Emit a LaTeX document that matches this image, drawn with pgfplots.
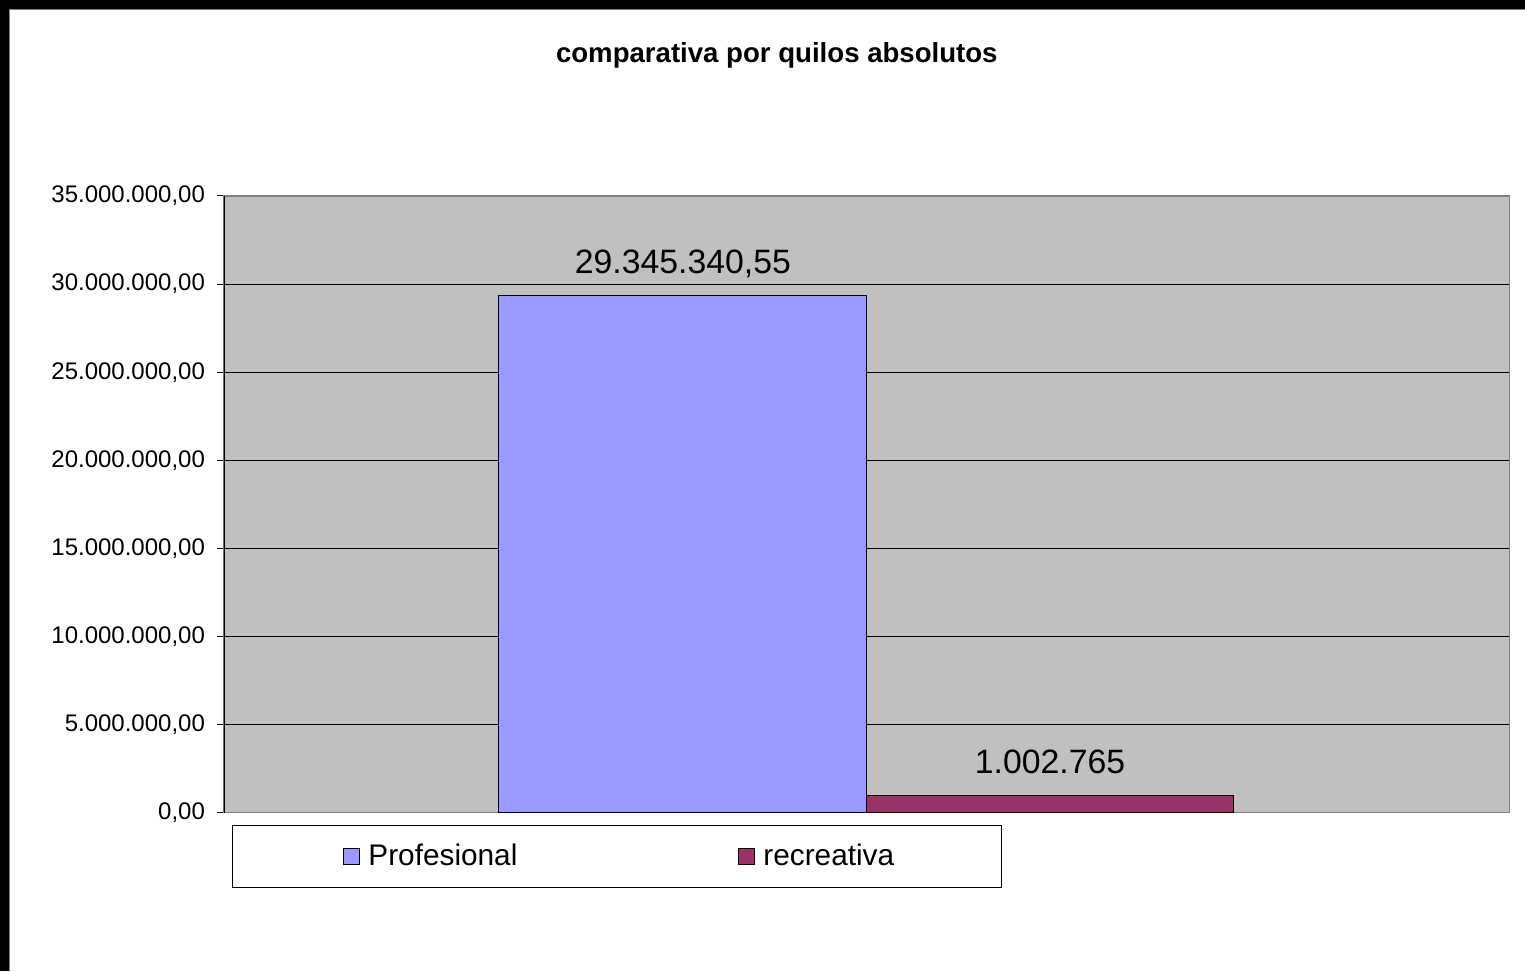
\documentclass[border=0pt]{standalone}
\usepackage{fontspec}
\setmainfont{Liberation Sans}
\usepackage{pgfplots}
\usepackage{pgfplotstable}
\pgfplotsset{compat=1.18}

\definecolor{plotgray}{HTML}{C0C0C0}
\definecolor{frame}{HTML}{808080}
\definecolor{profblue}{HTML}{9999FF}
\definecolor{recred}{HTML}{993366}

\pgfplotstableread{
x y label
-0.286 29345340.55 29.345.340,55
}\profesional
\pgfplotstableread{
x y label
0.285 1002765 1.002.765
}\recreativa

\begin{document}
\begin{tikzpicture}
% page background with the black band top and left
\fill[black] (0,0) rectangle (762.5pt,485.5pt);
\fill[white] (4.5pt,0) rectangle (762.5pt,481pt);
\draw[frame, line width=0.4pt] (4.7pt,0) -- (4.7pt,480.8pt) -- (762.5pt,480.8pt);

\node[font=\bfseries\fontsize{13.8}{16}\selectfont] at (388.5pt,458pt) {comparativa por quilos absolutos};

\begin{axis}[
    at={(112pt,79pt)}, anchor=south west,
    scale only axis,
    width=643pt, height=308.5pt,
    xmin=-1, xmax=1,
    ymin=0, ymax=35000000,
    xtick=\empty,
    ytick={0,5000000,10000000,15000000,20000000,25000000,30000000,35000000},
    yticklabels={{0,00},{5.000.000,00},{10.000.000,00},{15.000.000,00},{20.000.000,00},{25.000.000,00},{30.000.000,00},{35.000.000,00}},
    scaled y ticks=false,
    yticklabel style={font=\fontsize{12}{14}\selectfont, xshift=-2.5pt},
    ytick pos=left,
    tick align=outside,
    major tick length=3.5pt,
    tick style={black, line width=0.5pt},
    ymajorgrids,
    major grid style={black, line width=0.5pt},
    axis line style={frame, line width=0.6pt},
    axis background/.style={fill=plotgray},
    ybar, bar width=184pt, bar shift=0pt,
    point meta=explicit symbolic,
    nodes near coords,
    every node near coord/.append style={font=\fontsize{16.9}{19}\selectfont, anchor=base, yshift=11pt},
    legend columns=2,
    legend cell align=left,
    legend image code/.code={\path[draw=none, fill=none] (-4pt,0) -- (10.5pt,0);
        \draw[#1, draw=black, line width=0.5pt] (0pt,-4pt) rectangle (8pt,4pt);},
    legend style={at={(axis description cs:0,0)}, anchor=north west, xshift=4pt, yshift=-6pt,
        draw=black, fill=white, line width=0.5pt, inner xsep=51.5pt, inner ysep=7.5pt,
        font=\fontsize{14.9}{17}\selectfont,
        /tikz/every even column/.append style={column sep=104.5pt}},
]
\draw[black, line width=0.6pt] (rel axis cs:0,0) -- (rel axis cs:0,1);
\addplot[fill=profblue, draw=black, line width=0.5pt] table[x=x, y=y, meta=label] {\profesional};
\addlegendentry{Profesional}
\addplot[fill=recred, draw=black, line width=0.5pt] table[x=x, y=y, meta=label] {\recreativa};
\addlegendentry{recreativa}
\end{axis}
\end{tikzpicture}
\end{document}
